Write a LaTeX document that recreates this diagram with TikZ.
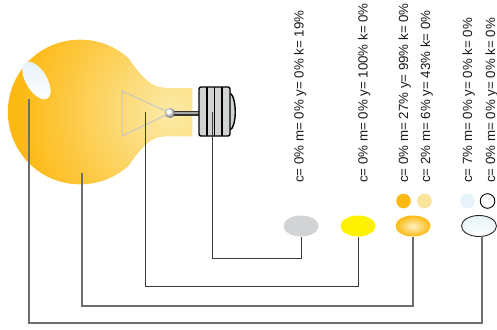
\documentclass[tikz,border=0pt]{standalone}
\usepackage{fontspec}
\setmainfont{Liberation Sans}
\definecolor{bulbOrange}{HTML}{FDB913}
\definecolor{bulbPale}{HTML}{FCEBA8}
\definecolor{creamY}{HTML}{F9E59B}
\definecolor{iceBlue}{HTML}{E6F3FA}
\definecolor{baseGray}{HTML}{D1D3D4}
\definecolor{pureYellow}{HTML}{FFF200}
\definecolor{leadDark}{HTML}{3A3A3A}
\definecolor{leadMid}{HTML}{6E6E6E}
\tikzset{
  leader/.style={draw=leadDark, line width=0.9pt},
  leaderB/.style={draw=leadMid, line width=1.2pt},
  swatch/.style={ellipse, minimum width=35pt, minimum height=21pt, inner sep=0pt},
  dot/.style={circle, minimum size=14.6pt, inner sep=0pt},
  cmyk/.style={rotate=90, anchor=base west, inner sep=0pt, font=\fontsize{13.3}{13.3}\selectfont, text=black!90},
}
\usetikzlibrary{shapes.geometric}
\begin{document}
\begin{tikzpicture}[x=1pt, y=-1pt]
\useasboundingbox (0,0) rectangle (497,329);

% glass bulb with warm radial glow toward the neck
\begin{scope}
  \clip (192,88) -- (165,88) .. controls (150,88) and (140,75) .. (128,58)
        arc[start angle=-48.4, end angle=-311.6, radius=72.2]
        .. controls (140,149) and (150,136) .. (165,136) -- (192,136) -- cycle;
  \fill[bulbOrange] (0,30) rectangle (200,190);
  \shade[inner color=bulbPale, outer color=bulbOrange] (172,112) circle (155);
\end{scope}

% reflection highlight
\shade[top color=iceBlue, bottom color=white, rotate around={-59:(36.5,80.5)}]
  (36.5,80.5) ellipse [x radius=21, y radius=10.5];
\coordinate (hl) at (29,99);

% filament support
\draw[gray!45, line width=1pt] (122,91) -- (122,136) -- (170,113) -- cycle;
% lead wire
\draw[black!80, line width=5pt] (170,113) -- (200,113);
\draw[black!35, line width=1.6pt] (172,113) -- (200,113);
% contact bead
\shade[ball color=white] (170,113) circle (5);

% screw base
\draw[black, line width=1.4pt, fill=baseGray] (230,93) .. controls (237,97) and (237,127) .. (230,130);
\draw[black, line width=1.4pt, fill=baseGray, rounded corners=2pt] (199,87) rectangle (230,136);
\foreach \sx in {207,214.5,222} \draw[black, line width=1.2pt] (\sx,87) -- (\sx,136);

\coordinate (baseP) at (212,112);
\coordinate (filP) at (145,112);
\coordinate (glassP) at (82,173);

% colour swatches
\node[swatch, fill=baseGray] (sw1) at (301,226) {};
\node[swatch, fill=pureYellow] (sw2) at (358,226) {};
\node[swatch, inner color=bulbPale!70!white, outer color=bulbOrange] (sw3) at (413,226) {};
\node[swatch, draw=black!85, line width=0.9pt, top color=iceBlue, bottom color=white] (sw4) at (479,226) {};

\node[dot, fill=bulbOrange] (d1) at (403.5,201) {};
\node[dot, fill=creamY] (d2) at (424.5,201) {};
\node[dot, fill=iceBlue] (d3) at (467.5,201) {};
\node[dot, draw=black, line width=0.9pt, fill=white] (d4) at (487.5,201) {};

% CMYK values
\node[cmyk] (t1) at (303.5,183) {c= 0\% m= 0\% y= 0\% k= 19\%};
\node[cmyk] (t2) at (367.5,183) {c= 0\% m= 0\% y= 100\% k= 0\%};
\node[cmyk] (t3) at (408,183) {c= 0\% m= 27\% y= 99\% k= 0\%};
\node[cmyk] (t4) at (430,183) {c= 2\% m= 6\% y= 43\% k= 0\%};
\node[cmyk] (t5) at (472,183) {c= 7\% m= 0\% y= 0\% k= 0\%};
\node[cmyk] (t6) at (495,183) {c= 0\% m= 0\% y= 0\% k= 0\%};

% leader lines
\draw[leader] (baseP) |- (301,258) -- (sw1.south);
\draw[leader] (filP) |- (358,286) -- (sw2.south);
\draw[leaderB] (glassP) |- (413,306) -- (sw3.south);
\draw[leaderB] (hl) |- (482,323) -- (482,236);
\end{tikzpicture}
\end{document}
